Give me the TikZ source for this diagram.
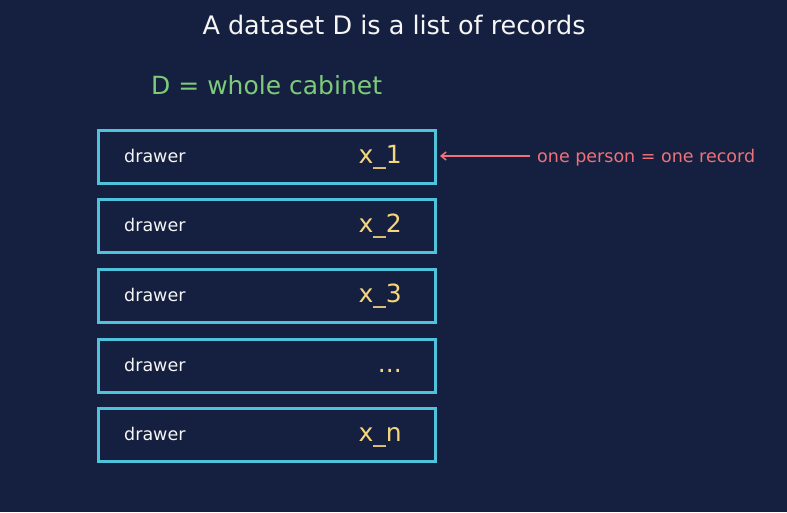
\documentclass[tikz,border=0pt]{standalone}
\usepackage{fontspec}
\setmainfont{DejaVu Sans}
\usetikzlibrary{arrows.meta}
\definecolor{bg}{HTML}{152040}
\definecolor{boxc}{HTML}{4FC3DC}
\definecolor{yel}{HTML}{F5D67A}
\definecolor{grn}{HTML}{7DCB79}
\definecolor{redc}{HTML}{F07178}
\definecolor{wht}{HTML}{F6F6F6}
\newcommand\mythreedots{...}
\begin{document}
\begin{tikzpicture}[x=1pt,y=-1pt,
  drawerbox/.style={draw=boxc,line width=3pt,fill=bg,minimum width=337pt,minimum height=53pt,inner sep=0pt,outer sep=0pt,anchor=north west},
  drawertxt/.style={text=wht,font=\fontsize{17.5}{20}\selectfont,anchor=base west,inner sep=0pt},
  reclabel/.style={text=yel,font=\fontsize{25}{28}\selectfont,anchor=base east,inner sep=0pt}]
\fill[bg] (0,0) rectangle (787,512);
\useasboundingbox (0,0) rectangle (787,512);
\node[text=wht,font=\fontsize{25.5}{30}\selectfont,anchor=base,inner sep=0pt] (title) at (394,34.3) {A dataset D is a list of records};
\node[text=grn,font=\fontsize{25}{30}\selectfont,anchor=base west,inner sep=0pt] (cab) at (151,94) {D = whole cabinet};
\foreach \i/\lab/\y in {1/x\_1/130.5, 2/x\_2/199.5, 3/x\_3/269.5, 4/\mythreedots/339, 5/x\_n/408.5}{
  \node[drawerbox] (b\i) at (98.5,\y) {};
  \node[drawertxt] (d\i) at (124,\y+32) {drawer};
  \node[reclabel] (x\i) at (402,\y+33) {\lab};
}
\coordinate (astart) at (530,156);
\draw[redc,line width=1.5pt,-{Straight Barb[length=5pt,width=8pt]}] (astart) -- ([xshift=4.5pt]b1.east |- astart);
\node[text=redc,font=\fontsize{17.5}{20}\selectfont,anchor=base west,inner sep=0pt] (note) at (537,162) {one person = one record};
\end{tikzpicture}
\end{document}
